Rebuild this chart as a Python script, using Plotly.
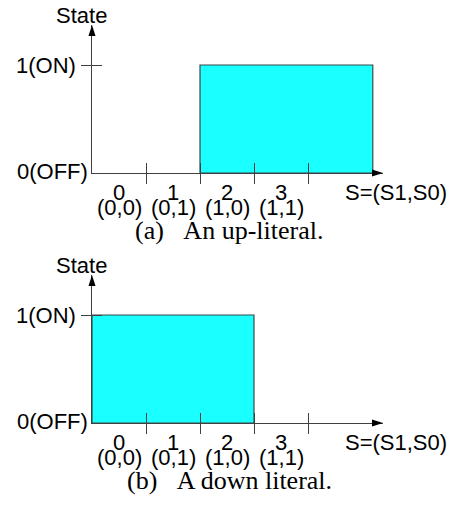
import plotly.graph_objects as go

# ---- data ----
codes = ["0", "1", "2", "3"]
pairs = ["(0,0)", "(0,1)", "(1,0)", "(1,1)"]
up_literal = [0, 0, 1, 1]
down_literal = [1, 1, 1, 0]
state_labels = ["0(OFF)", "1(ON)"]
state_values = [0, 1]
captions = ["(a)\u00a0\u00a0\u00a0An up-literal.", "(b)\u00a0\u00a0\u00a0A down literal."]
x_title = "S=(S1,S0)"
y_title = "State"

# ---- geometry / style ----
W, H = 458, 506
ORIGIN_PX = 92          # x pixel of the vertical axis
TIP_PX = 383            # x pixel of the horizontal arrow tip
CAT_PX = 54             # pixels per code
STATE_PX = 108          # pixels per state unit
BASE_PX = [173, 423]    # baseline pixel row of each panel
TIP_UP_PX = 148         # length of the vertical axis above the baseline
OPEN_TAIL = 1.2         # how far an open-ended run continues past the last code

X_MIN = -0.5
X_MAX = X_MIN + (TIP_PX - ORIGIN_PX) / CAT_PX
Y_MAX = TIP_UP_PX / STATE_PX

AXIS_COLOR = "#404040"
FILL = "#1AFFFF"
EDGE = "#3c4848"
SANS = "Liberation Sans, Arial, sans-serif"
SERIF = "Liberation Serif, Times New Roman, serif"
LABEL_SIZE = 22
CAPTION_SIZE = 26

boundaries = [i + 0.5 for i in range(len(codes))]
x_dom = [ORIGIN_PX / W, TIP_PX / W]


def on_run(values):
    on = [i for i, v in enumerate(values) if v]
    left, right = on[0] - 0.5, on[-1] + 0.5
    if on[0] == 0:
        left = max(left - OPEN_TAIL, X_MIN)
    if on[-1] == len(values) - 1:
        right = min(right + OPEN_TAIL, X_MAX)
    return left, right


fig = go.Figure()
layout = dict(
    width=W, height=H, autosize=False,
    margin=dict(l=0, r=0, t=0, b=0),
    paper_bgcolor="white", plot_bgcolor="rgba(0,0,0,0)",
    showlegend=False,
)
annotations = []
shapes = []

for k, (values, base) in enumerate(zip([up_literal, down_literal], BASE_PX)):
    n = k + 1
    xm, ym = ("x" if n == 1 else f"x{n}"), ("y" if n == 1 else f"y{n}")
    xo, yo = f"x{n + 2}", f"y{n + 2}"
    y_dom = [(H - base) / H, (H - base + TIP_UP_PX) / H]

    # shaded ON region
    l, r = on_run(values)
    fig.add_trace(go.Scatter(
        x=[l, l, r, r, l], y=[0, 1, 1, 0, 0],
        mode="lines", fill="toself", fillcolor=FILL,
        line=dict(color=EDGE, width=1.2),
        xaxis=xm, yaxis=ym, hoverinfo="skip",
    ))
    # carrier trace for the overlay axes (ticks drawn on the inner side)
    fig.add_trace(go.Scatter(
        x=[X_MIN], y=[0], mode="markers", marker=dict(opacity=0),
        xaxis=xo, yaxis=yo, hoverinfo="skip",
    ))

    common = dict(showgrid=False, zeroline=False, showticklabels=False,
                  fixedrange=True, tickcolor=AXIS_COLOR, tickwidth=1, ticklen=10)
    key_xm = "xaxis" if n == 1 else f"xaxis{n}"
    key_ym = "yaxis" if n == 1 else f"yaxis{n}"
    layout[key_xm] = dict(domain=x_dom, range=[X_MIN, X_MAX], anchor=ym,
                          showline=True, linecolor=AXIS_COLOR, linewidth=1.2,
                          ticks="outside", tickmode="array", tickvals=boundaries, **common)
    layout[f"xaxis{n + 2}"] = dict(domain=x_dom, range=[X_MIN, X_MAX], anchor=yo,
                                   overlaying=xm, showline=False,
                                   ticks="inside", tickmode="array", tickvals=boundaries, **common)
    layout[key_ym] = dict(domain=y_dom, range=[0, Y_MAX], anchor=xm,
                          showline=True, linecolor=AXIS_COLOR, linewidth=1.2,
                          ticks="outside", tickmode="array", tickvals=[1], **common)
    layout[f"yaxis{n + 2}"] = dict(domain=y_dom, range=[0, Y_MAX], anchor=xo,
                                   overlaying=ym, showline=False,
                                   ticks="inside", tickmode="array", tickvals=[1], **common)

    # code and bit-pair labels under each category
    for i, (c, p) in enumerate(zip(codes, pairs)):
        annotations.append(dict(x=i, y=0, xref=xm, yref=ym, text=c, showarrow=False,
                                xanchor="center", yanchor="middle", yshift=-19,
                                font=dict(family=SANS, size=LABEL_SIZE, color="black")))
        annotations.append(dict(x=i, y=0, xref=xm, yref=ym, text=p, showarrow=False,
                                xanchor="center", yanchor="middle", yshift=-34,
                                font=dict(family=SANS, size=LABEL_SIZE, color="black")))

    # state labels on the vertical axis
    for txt, v in zip(state_labels, state_values):
        annotations.append(dict(x=X_MIN, y=v, xref=xm, yref=ym, text=txt, showarrow=False,
                                xanchor="right", yanchor="middle",
                                xshift=-14 if v else -2, yshift=0 if v else 2,
                                font=dict(family=SANS, size=LABEL_SIZE, color="black")))

    annotations.append(dict(x=X_MIN, y=Y_MAX, xref=xm, yref=ym, text=y_title, showarrow=False,
                            xanchor="center", yanchor="middle", xshift=-11, yshift=10,
                            font=dict(family=SANS, size=LABEL_SIZE, color="black")))
    annotations.append(dict(x=X_MAX, y=0, xref=xm, yref=ym, text=x_title, showarrow=False,
                            xanchor="left", yanchor="middle", xshift=-40, yshift=-19,
                            font=dict(family=SANS, size=LABEL_SIZE, color="black")))

    cap_y = (H - (base + 57)) / H
    annotations.append(dict(x=0.5, y=cap_y, xref="paper", yref="paper", text=captions[k],
                            showarrow=False, xanchor="center", yanchor="middle",
                            font=dict(family=SERIF, size=CAPTION_SIZE, color="black")))

    # arrowheads on both axes
    shapes.append(dict(type="path", xref=f"{xm} domain", yref=f"{ym} domain",
                       xsizemode="pixel", ysizemode="pixel", xanchor=1, yanchor=0,
                       path="M0,0 L-11,3.5 L-11,-3.5 Z",
                       fillcolor="black", line=dict(width=0)))
    shapes.append(dict(type="path", xref=f"{xm} domain", yref=f"{ym} domain",
                       xsizemode="pixel", ysizemode="pixel", xanchor=0, yanchor=1,
                       path="M0,0 L-3.5,-11 L3.5,-11 Z",
                       fillcolor="black", line=dict(width=0)))

layout["annotations"] = annotations
layout["shapes"] = shapes
fig.update_layout(**layout)
fig.write_html("out.html")
